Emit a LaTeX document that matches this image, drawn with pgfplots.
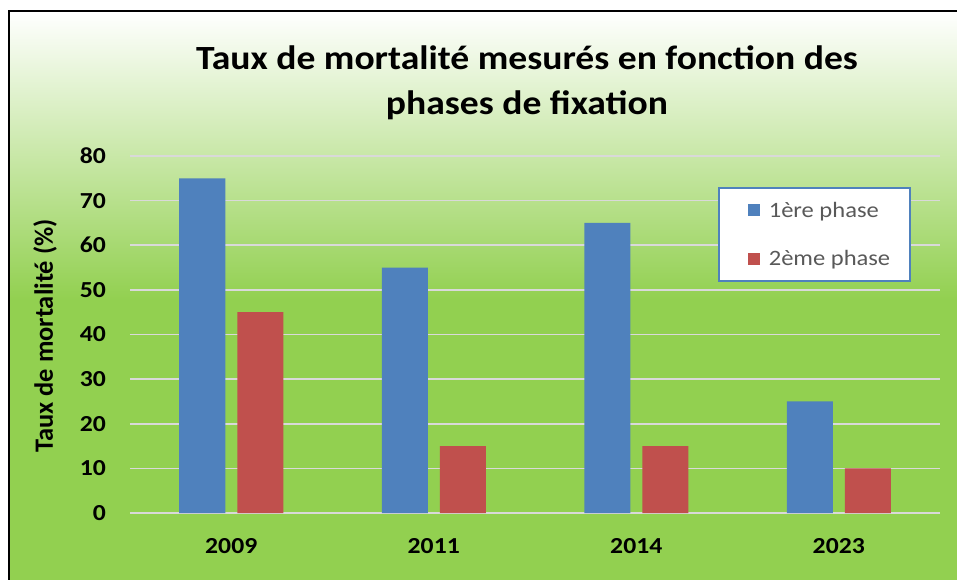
\documentclass[border=0pt]{standalone}
\usepackage{fontspec}
\setmainfont{Carlito}
\usepackage{pgfplots}
\pgfplotsset{compat=1.18}
\definecolor{bblue}{HTML}{4F81BD}
\definecolor{bred}{HTML}{C0504D}
\definecolor{bgreen}{HTML}{92D050}
\definecolor{gridc}{HTML}{D9D9D9}
\definecolor{legtext}{HTML}{595959}
\begin{document}
\begin{tikzpicture}
\useasboundingbox (-130bp,-67bp) rectangle (827bp,513bp);
\fill[white] (-130bp,-67bp) rectangle (827bp,513bp);
\fill[bgreen] (-121bp,-67bp) rectangle (827bp,214bp);
\shade[top color=white, bottom color=bgreen] (-121bp,213bp) rectangle (827bp,502bp);
\draw[black, line width=2bp] (-121bp,-67bp) -- (-121bp,502bp) -- (827bp,502bp);
\node[font=\bfseries\fontsize{34}{45}\selectfont, align=center, xscale=1.11] at (397bp,430bp)
  {Taux de mortalité mesurés en fonction des\\phases de fixation};
\begin{axis}[
  at={(0bp,0bp)}, anchor=south west,
  scale only axis, width=810bp, height=357bp,
  xmin=-0.5, xmax=3.5, ymin=0, ymax=80,
  ytick={0,10,...,80},
  xtick={0,1,2,3}, xticklabels={2009,2011,2014,2023},
  axis line style={draw=none},
  major tick length=0pt,
  ymajorgrids, grid style={gridc, line width=1.5bp},
  /pgf/number format/assume math mode=true,
  yticklabel style={font=\bfseries\fontsize{23}{23}\selectfont, xscale=1.12, xshift=-18bp},
  xticklabel style={font=\bfseries\fontsize{23}{23}\selectfont, xscale=1.12, yshift=-22bp},
  ylabel={Taux de mortalité (\%)},
  every axis y label/.style={at={(-85bp,177bp)}, rotate=90, anchor=center,
    font=\bfseries\fontsize{26.5}{26.5}\selectfont},
  legend style={at={(rel axis cs:0.726,0.913)}, anchor=north west,
    draw=bblue, line width=1.5bp, fill=white,
    font=\fontsize{22}{22}\selectfont, text=legtext,
    inner xsep=18bp, inner ysep=12bp, row sep=28bp},
  legend cell align=left,
  legend image code/.code={\fill[#1, draw=none] (0bp,-6bp) rectangle (12bp,6bp);
    \path (19bp,0bp) (-11bp,0bp);},
]
\addplot[ybar, bar width=46bp, bar shift=-29bp, fill=bblue, draw=none]
  coordinates {(0,75) (1,55) (2,65) (3,25)};
\addplot[ybar, bar width=46bp, bar shift=29bp, fill=bred, draw=none]
  coordinates {(0,45) (1,15) (2,15) (3,10)};
\legend{\scalebox{1.12}[1]{1ère phase}, \scalebox{1.12}[1]{2ème phase}}
\end{axis}
\end{tikzpicture}
\end{document}
